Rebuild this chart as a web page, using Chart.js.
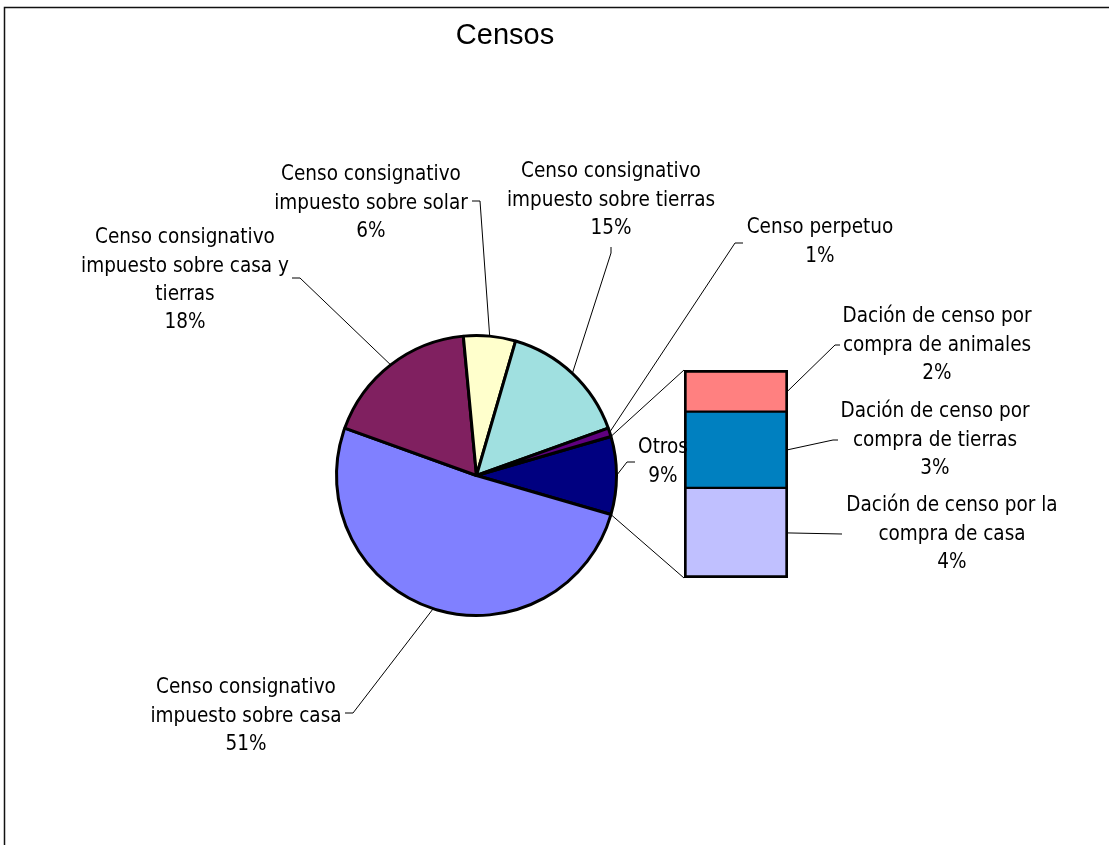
<!DOCTYPE html>
<html><head><meta charset="utf-8">
<script src="https://cdn.jsdelivr.net/npm/chart.js@4"></script>
<style>
html,body{margin:0;padding:0;background:#fff;overflow:hidden}
#wrap{position:relative;width:1109px;height:845px}
canvas{position:absolute;left:0;top:0}
</style></head><body>
<div id="wrap"><canvas id="pie" width="1109" height="845"></canvas><canvas id="bar" width="1109" height="845"></canvas></div>
<script>
// ---- data ----
const chartTitle = 'Censos';
const pieCategories = ['Otros', 'Censo consignativo impuesto sobre casa', 'Censo consignativo impuesto sobre casa y tierras', 'Censo consignativo impuesto sobre solar', 'Censo consignativo impuesto sobre tierras', 'Censo perpetuo'];
const pieValues = [51, 18, 6, 15, 1];           // casa, casa y tierras, solar, tierras, perpetuo (%)
const barCategories = ['Dación de censo por la compra de casa', 'Dación de censo por compra de tierras', 'Dación de censo por compra de animales'];
const barValues = [3.9, 3.3, 1.8];              // bottom -> top (%)

// ---- styles ----
const pieColors = ['#000080', '#8080FF', '#802060', '#FFFFCC', '#A0E0E0', '#600080'];
const barColors = ['#C0C0FF', '#0080C0', '#FF8080'];
const labelFont = '20.5px "DejaVu Sans Condensed", "DejaVu Sans", sans-serif';
const LH = 28.3;

// label layout (text centre x, first line y, wrapped lines, leader elbow points)
const pieLabelLayout = [
  {lines: ['Otros'], x: 663, y: 448, leader: [[635, 462], [627, 462]]},
  {lines: ['Censo consignativo', 'impuesto sobre casa'], x: 246, y: 688, leader: [[345, 713], [353, 713]]},
  {lines: ['Censo consignativo', 'impuesto sobre casa y', 'tierras'], x: 185, y: 238, leader: [[292, 278], [300, 278]]},
  {lines: ['Censo consignativo', 'impuesto sobre solar'], x: 371, y: 175, leader: [[472, 201], [480, 201]]},
  {lines: ['Censo consignativo', 'impuesto sobre tierras'], x: 611, y: 172, leader: [[611, 247], [611, 253]]},
  {lines: ['Censo perpetuo'], x: 820, y: 228, leader: [[743, 243], [735, 243]]}
];
const barLabelLayout = [
  {lines: ['Dación de censo por la', 'compra de casa'], x: 952, y: 506, leader: [[842, 534]]},
  {lines: ['Dación de censo por', 'compra de tierras'], x: 935, y: 412, leader: [[838, 440], [833, 440]]},
  {lines: ['Dación de censo por', 'compra de animales'], x: 937, y: 317, leader: [[840, 345], [835, 345]]}
];

const otros = barValues.reduce((a, b) => a + b, 0);
const allPie = [otros].concat(pieValues);
const total = allPie.reduce((a, b) => a + b, 0);
const pct = v => Math.round(v / total * 100) + '%';
const otrosDeg = otros / total * 360;

const framePlugin = {
  id: 'frame',
  beforeDraw(chart) {
    const ctx = chart.ctx;
    ctx.save();
    ctx.fillStyle = '#fff';
    ctx.fillRect(0, 0, chart.width, chart.height);
    ctx.strokeStyle = '#111';
    ctx.lineWidth = 1.5;
    ctx.beginPath();
    ctx.moveTo(4.5, chart.height);
    ctx.lineTo(4.5, 7.5);
    ctx.lineTo(chart.width, 7.5);
    ctx.stroke();
    ctx.fillStyle = '#000';
    ctx.font = '29px "Liberation Sans", Arial, sans-serif';
    ctx.textAlign = 'center';
    ctx.textBaseline = 'middle';
    ctx.fillText(chartTitle, 505, 36);
    ctx.restore();
  }
};

const pieChart = new Chart(document.getElementById('pie'), {
  type: 'pie',
  data: {
    labels: pieCategories,
    datasets: [{data: allPie, backgroundColor: pieColors, borderColor: '#000', borderWidth: 3}]
  },
  options: {
    responsive: false,
    animation: false,
    rotation: 90 - otrosDeg / 2,
    layout: {padding: {left: 335, right: 491, top: 334, bottom: 228}},
    plugins: {legend: {display: false}, tooltip: {enabled: false}, title: {display: false}}
  },
  plugins: [framePlugin]
});

function drawLabel(ctx, lay, value) {
  const lines = lay.lines.concat([pct(value)]);
  lines.forEach((t, i) => ctx.fillText(t, lay.x, lay.y + i * LH));
}
function drawLeader(ctx, pts, anchor) {
  ctx.beginPath();
  ctx.moveTo(pts[0][0], pts[0][1]);
  for (let i = 1; i < pts.length; i++) ctx.lineTo(pts[i][0], pts[i][1]);
  ctx.lineTo(anchor[0], anchor[1]);
  ctx.stroke();
}

const annotPlugin = {
  id: 'annot',
  afterDraw(chart) {
    const ctx = chart.ctx;
    const arcs = pieChart.getDatasetMeta(0).data;
    ctx.save();
    ctx.strokeStyle = '#000';
    ctx.lineWidth = 1;
    // series lines pie -> bar
    const o = arcs[0];
    const top = chart.getDatasetMeta(barValues.length - 1).data[0];
    const bot = chart.getDatasetMeta(0).data[0];
    const barLeft = top.x - top.width / 2;
    const barTop = Math.min(top.y, top.base);
    const barBottom = Math.max(bot.y, bot.base);
    ctx.beginPath();
    ctx.moveTo(o.x + o.outerRadius * Math.cos(o.startAngle), o.y + o.outerRadius * Math.sin(o.startAngle));
    ctx.lineTo(barLeft, barTop);
    ctx.moveTo(o.x + o.outerRadius * Math.cos(o.endAngle), o.y + o.outerRadius * Math.sin(o.endAngle));
    ctx.lineTo(barLeft, barBottom);
    ctx.stroke();
    // pie leaders + labels
    ctx.font = labelFont;
    ctx.fillStyle = '#000';
    ctx.textAlign = 'center';
    ctx.textBaseline = 'middle';
    arcs.forEach((a, i) => {
      const mid = (a.startAngle + a.endAngle) / 2;
      const anchor = [a.x + a.outerRadius * Math.cos(mid), a.y + a.outerRadius * Math.sin(mid)];
      drawLeader(ctx, pieLabelLayout[i].leader, anchor);
      drawLabel(ctx, pieLabelLayout[i], allPie[i]);
    });
    barValues.forEach((v, i) => {
      const b = chart.getDatasetMeta(i).data[0];
      const anchor = [b.x + b.width / 2, (b.y + b.base) / 2];
      drawLeader(ctx, barLabelLayout[i].leader, anchor);
      drawLabel(ctx, barLabelLayout[i], v);
    });
    ctx.restore();
  }
};

const barBorders = [
  {left: 3, right: 3, top: 1.5, bottom: 3},
  {left: 3, right: 3, top: 1.5, bottom: 1.5},
  {left: 3, right: 3, top: 3, bottom: 1.5}
];
new Chart(document.getElementById('bar'), {
  type: 'bar',
  data: {
    labels: ['Otros'],
    datasets: barValues.map((v, i) => ({
      label: barCategories[i], data: [v], backgroundColor: barColors[i],
      borderColor: '#000', borderWidth: barBorders[i], borderSkipped: false,
      categoryPercentage: 1, barPercentage: 1
    }))
  },
  options: {
    responsive: false,
    animation: false,
    layout: {padding: {left: 684, right: 321, top: 370, bottom: 267}},
    scales: {
      x: {stacked: true, display: false},
      y: {stacked: true, display: false, min: 0, max: otros}
    },
    plugins: {legend: {display: false}, tooltip: {enabled: false}, title: {display: false}}
  },
  plugins: [annotPlugin]
});
</script>
</body></html>
